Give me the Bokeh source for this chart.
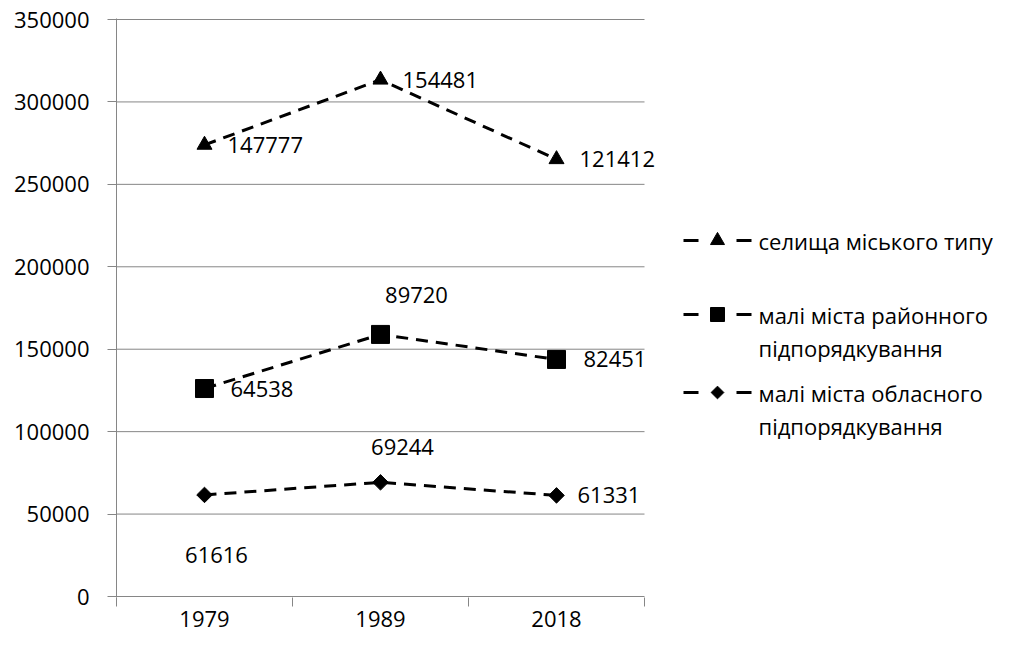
import numpy as np
from bokeh.plotting import figure
from bokeh.layouts import row
from bokeh.models import FixedTicker
from bokeh.core.properties import value
from bokeh.embed import file_html
from bokeh.resources import INLINE

# ---- data ----
years = ["1979", "1989", "2018"]
oblast = [61616, 69244, 61331]    # малі міста обласного підпорядкування
rayon = [64538, 89720, 82451]     # малі міста районного підпорядкування
smt = [147777, 154481, 121412]    # селища міського типу
y_ticks = [0, 50000, 100000, 150000, 200000, 250000, 300000, 350000]
names = ["селища міського типу",
         "малі міста районного\nпідпорядкування",
         "малі міста обласного\nпідпорядкування"]
markers = ["triangle", "square", "square"]
angles = [0, 0, np.pi / 4]            # the last square is turned into a diamond

# stacked line chart (cumulative positions)
xs = list(range(len(years)))
s1 = np.array(oblast)
s2 = s1 + np.array(rayon)
s3 = s2 + np.array(smt)

FONT = value("Open Sans")
GRAY = "#868686"
W_MAIN, H = 668, 634
TOP, ZERO = 19, 596                    # pixel rows of 350000 and 0
PX = 350000 / (ZERO - TOP)             # data units per pixel
CAT_PX = 176
x_end = -0.5 + (W_MAIN - 116) / CAT_PX

p = figure(width=W_MAIN, height=H, x_range=(-0.5, x_end),
           y_range=(-PX, 350000 + PX), title=None,
           output_backend="svg", toolbar_location=None,
           min_border_left=116, min_border_right=0,
           min_border_top=TOP - 1, min_border_bottom=H - ZERO - 1)
p.outline_line_color = None
p.background_fill_color = "white"
p.border_fill_color = "white"

# x axis (category axis with ticks between categories)
p.xaxis.ticker = FixedTicker(ticks=xs, minor_ticks=[-0.5, 0.5, 1.5, 2.5])
p.xaxis.major_label_overrides = {i: y for i, y in enumerate(years)}
p.xaxis.major_tick_out = 0
p.xaxis.major_tick_in = 0
p.xaxis.minor_tick_out = 9
p.xaxis.minor_tick_in = 0
p.xaxis.minor_tick_line_color = GRAY
p.xaxis.axis_line_color = None
p.xaxis.major_label_standoff = 4
p.xaxis.major_label_text_font = "Open Sans"
p.xaxis.major_label_text_font_size = "22px"
p.xaxis.major_label_text_color = "black"
p.xgrid.visible = False

# y axis
p.yaxis.ticker = FixedTicker(ticks=y_ticks)
p.yaxis.major_label_overrides = {t: str(t) for t in y_ticks}
p.yaxis.minor_tick_line_color = None
p.yaxis.major_tick_out = 9
p.yaxis.major_tick_in = 0
p.yaxis.major_tick_line_color = GRAY
p.yaxis.axis_line_color = GRAY
p.yaxis.major_label_standoff = 18
p.yaxis.major_label_text_font = "Open Sans"
p.yaxis.major_label_text_font_size = "22px"
p.yaxis.major_label_text_color = "black"
p.ygrid.visible = False

# horizontal gridlines limited to the category span (the 0 line is the x axis line)
p.segment(x0=[-0.5] * len(y_ticks), x1=[2.5] * len(y_ticks), y0=y_ticks, y1=y_ticks,
          line_color=GRAY, line_width=1)

series = [(s3, smt), (s2, rayon), (s1, oblast)]
sizes = [15, 18, 11]
for (ys, vals), mk, ang, sz in zip(series, markers, angles, sizes):
    p.line(xs, ys, line_color="black", line_width=3, line_dash="12 8")
    p.scatter(xs, ys, marker=mk, size=sz, angle=ang, color="black")

# data labels: (dx, dy, align) per point
label_pos = [
    [(23, 0, "left"), (22, 0, "left"), (23, 0, "left")],
    [(26, 0, "left"), (36, -39, "center"), (27, 0, "left")],
    [(12, 60, "center"), (22, -35, "center"), (21, 0, "left")],
]
for (ys, vals), pos in zip(series, label_pos):
    for i in xs:
        dx, dy, al = pos[i]
        p.text(x=[xs[i]], y=[ys[i]], text=[str(vals[i])], x_offset=dx, y_offset=dy,
               text_align=al, text_baseline="middle", text_font=FONT,
               text_font_size="22px", text_color="black")

# ---- legend panel (separate figure; its frame is aligned with the main frame,
#      so its y range is given in page pixel rows, downwards) ----
W_LEG = 995 - W_MAIN
lg = figure(width=W_LEG, height=H, x_range=(0, W_LEG), y_range=(ZERO + 1, TOP - 1),
            title=None, output_backend="svg", toolbar_location=None,
            x_axis_type=None, y_axis_type=None,
            min_border_left=0, min_border_right=0,
            min_border_top=TOP - 1, min_border_bottom=H - ZERO - 1)
lg.outline_line_color = None
lg.xgrid.visible = False
lg.ygrid.visible = False

item_y = [240, 314, 392]
line_gap = 33
for nm, mk, ang, sz, cy in zip(names, markers, angles, [14, 14, 9], item_y):
    lg.segment(x0=[15, 68], x1=[30, 83], y0=[cy, cy], y1=[cy, cy],
               line_color="black", line_width=3)
    lg.scatter([49], [cy], marker=mk, size=sz, angle=ang, color="black")
    for j, line in enumerate(nm.split("\n")):
        lg.text(x=[90], y=[cy + j * line_gap], text=[line], text_align="left",
                text_baseline="middle", text_font=FONT, text_font_size="22px",
                text_color="black")

layout = row(p, lg)
open("out.html", "w").write(file_html(layout, INLINE))
